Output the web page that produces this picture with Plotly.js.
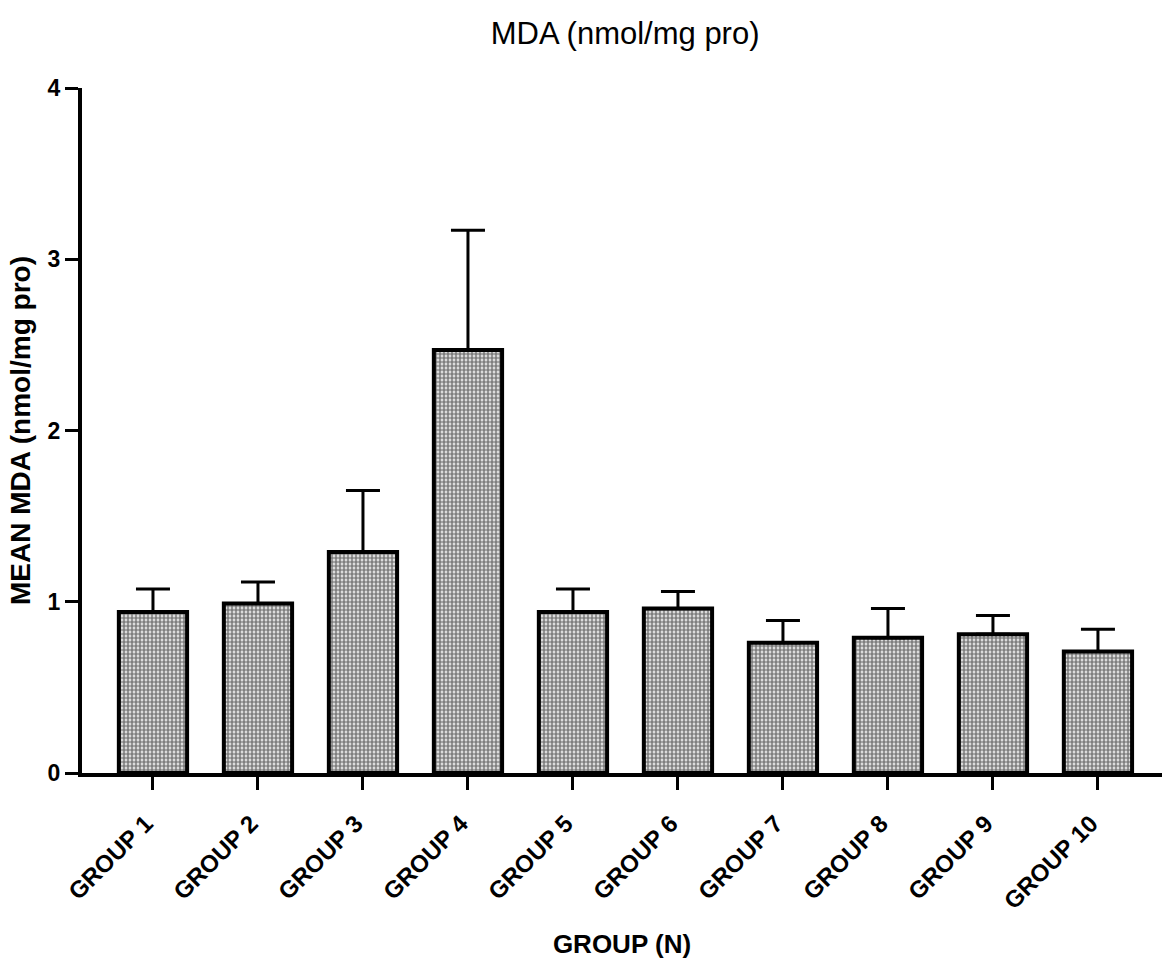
<!DOCTYPE html>
<html>
<head>
<meta charset="utf-8">
<script src="https://cdn.plot.ly/plotly-3.0.1.min.js"></script>
<style>html,body{margin:0;padding:0;background:#fff;}#chart{width:1162px;height:959px;}</style>
</head>
<body>
<div id="chart"></div>
<script>
const groups = ["GROUP 1","GROUP 2","GROUP 3","GROUP 4","GROUP 5","GROUP 6","GROUP 7","GROUP 8","GROUP 9","GROUP 10"];
const meanMDA = [0.94, 0.99, 1.29, 2.47, 0.94, 0.96, 0.76, 0.79, 0.81, 0.71];
const errMDA  = [0.135, 0.125, 0.36, 0.70, 0.135, 0.10, 0.13, 0.17, 0.11, 0.13];
const yTicks = [0, 1, 2, 3, 4];

const FONT = 'Liberation Sans, Arial, sans-serif';

const trace = {
  type: 'bar',
  x: groups,
  y: meanMDA,
  width: 0.65,
  marker: {
    color: '#ffffff',
    line: {color: '#000', width: 4},
    pattern: {shape: '.', fgcolor: '#000', bgcolor: '#ffffff', size: 4, solidity: 0.7, fillmode: 'overlay'}
  },
  error_y: {type: 'data', array: errMDA, arrayminus: errMDA.map(() => 0), symmetric: false, color: '#000', thickness: 3, width: 17},
  hoverinfo: 'none'
};

const layout = {
  width: 1162, height: 959,
  margin: {l: 82, r: 0, t: 88, b: 186},
  paper_bgcolor: '#fff', plot_bgcolor: '#fff',
  showlegend: false,
  title: {text: 'MDA (nmol/mg pro)', font: {family: FONT, size: 31, color: '#000'}, x: 0.538, xanchor: 'center', y: 0.965, yanchor: 'middle'},
  xaxis: {
    type: 'category',
    range: [-0.676, 9.61],
    showgrid: false, zeroline: false,
    showline: true, linecolor: '#000', linewidth: 4,
    ticks: 'outside', ticklen: 13, tickwidth: 3, tickcolor: '#000',
    tickangle: -45,
    ticklabelstandoff: 10,
    ticklabelshift: -7,
    tickfont: {family: FONT, size: 24, color: '#000', weight: 'bold'},
    title: {text: '<b>GROUP (N)</b>', font: {family: FONT, size: 26, color: '#000'}, standoff: 22}
  },
  yaxis: {
    range: [0, 4],
    tickvals: yTicks,
    ticktext: yTicks.map(String),
    showgrid: false, zeroline: false,
    showline: true, linecolor: '#000', linewidth: 4,
    ticks: 'outside', ticklen: 13, tickwidth: 3, tickcolor: '#000',
    tickfont: {family: FONT, size: 23, color: '#000', weight: 'bold'},
    title: {text: '<b>MEAN MDA (nmol/mg pro)</b>', font: {family: FONT, size: 28, color: '#000'}, standoff: 10}
  }
};

Plotly.newPlot('chart', [trace], layout, {displayModeBar: false, staticPlot: true});
</script>
</body>
</html>
